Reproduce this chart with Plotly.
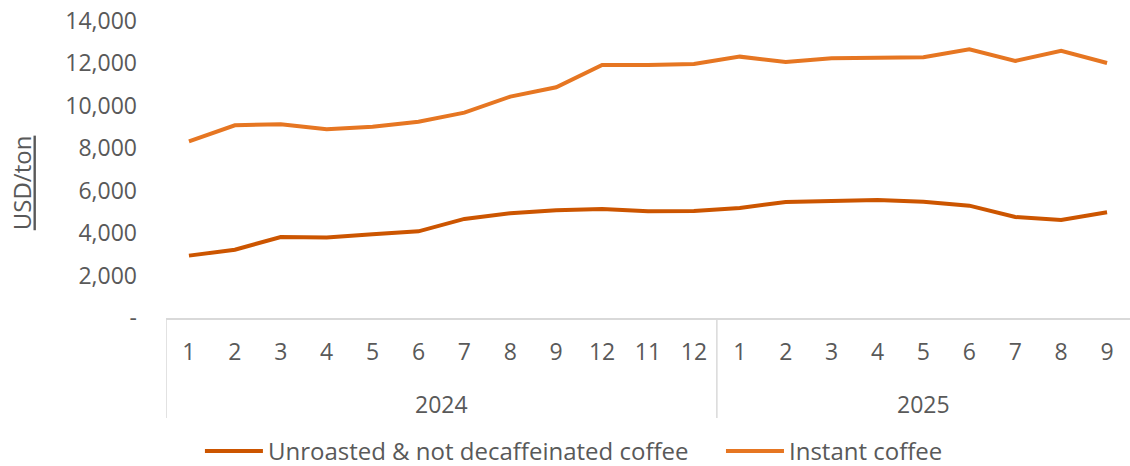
import plotly.graph_objects as go

years = ["2024", "2025"]
months = ["1", "2", "3", "4", "5", "6", "7", "8", "9", "12", "11", "12",
          "1", "2", "3", "4", "5", "6", "7", "8", "9"]
year_counts = [12, 9]
unroasted = [2940, 3220, 3820, 3790, 3945, 4085, 4670, 4935, 5080, 5140, 5030, 5045,
             5185, 5470, 5515, 5560, 5485, 5295, 4760, 4620, 4985]
instant = [8330, 9085, 9130, 8895, 9020, 9255, 9680, 10435, 10875, 11930, 11930, 11975,
           12320, 12070, 12245, 12245, 12290, 12665, 12115, 12590, 12020]
y_ticks = [0, 2000, 4000, 6000, 8000, 10000, 12000, 14000]
y_ticktext = ["-", "2,000", "4,000", "6,000", "8,000", "10,000", "12,000", "14,000"]

FONT = "Open Sans"
GRAY = "#595959"
TICK_SIZE = 23
LEG_SIZE = 24
x = list(range(len(months)))

fig = go.Figure()
fig.add_trace(go.Scatter(x=x, y=unroasted, mode="lines",
                         name="Unroasted & not decaffeinated coffee",
                         line=dict(color="#CC5500", width=4), legend="legend"))
fig.add_trace(go.Scatter(x=x, y=instant, mode="lines", name="Instant coffee",
                         line=dict(color="#E67622", width=4), legend="legend2"))

# group dividers and year labels
start = 0
bounds = [-0.5]
for yr, n in zip(years, year_counts):
    fig.add_annotation(x=start + (n - 1) / 2, y=-0.29, xref="x", yref="paper",
                       text=yr, showarrow=False, yanchor="middle",
                       font=dict(family=FONT, size=TICK_SIZE, color=GRAY))
    start += n
    bounds.append(start - 0.5)
for b in bounds[:-1]:
    fig.add_shape(type="line", x0=b, x1=b, y0=0, y1=-0.337, xref="x", yref="paper",
                  line=dict(color="#D9D9D9", width=1.5))

fig.add_annotation(x=-0.149, y=0.455, xref="paper", yref="paper",
                   xanchor="center", yanchor="middle",
                   text="USD/ton", textangle=-90, showarrow=False,
                   font=dict(family=FONT, size=24, color=GRAY, lineposition="under"))

leg_common = dict(orientation="h", xanchor="left", y=-0.449, yanchor="middle",
                  font=dict(family=FONT, size=LEG_SIZE, color=GRAY), itemwidth=58,
                  bgcolor="rgba(0,0,0,0)")

fig.update_layout(
    width=1130, height=466,
    margin=dict(l=166, r=0, t=21, b=148, autoexpand=False),
    plot_bgcolor="white", paper_bgcolor="white",
    font=dict(family=FONT, size=TICK_SIZE, color=GRAY),
    showlegend=True,
    legend=dict(x=0.0352, **leg_common),
    legend2=dict(x=0.5757, **leg_common),
    xaxis=dict(range=[-0.5, len(months) - 0.5], tickmode="array", tickvals=x,
               ticktext=months, showgrid=False, zeroline=False, showline=True,
               linecolor="#D9D9D9", linewidth=1.5, ticks="", ticklabelstandoff=13,
               automargin=False, ticklabeloverflow="allow",
               tickfont=dict(family=FONT, size=TICK_SIZE, color=GRAY)),
    yaxis=dict(range=[0, 14000], tickmode="array", tickvals=y_ticks,
               ticktext=y_ticktext, showgrid=False, zeroline=False, showline=False,
               ticks="", ticklabelstandoff=28, automargin=False,
               ticklabeloverflow="allow",
               tickfont=dict(family=FONT, size=TICK_SIZE, color=GRAY)),
)

# remove the default page margin so the figure fills the window exactly
fig.write_html("out.html",
               config={"displayModeBar": False},
               post_script="document.body.style.margin='0';"
                           "document.body.style.overflow='hidden';")
